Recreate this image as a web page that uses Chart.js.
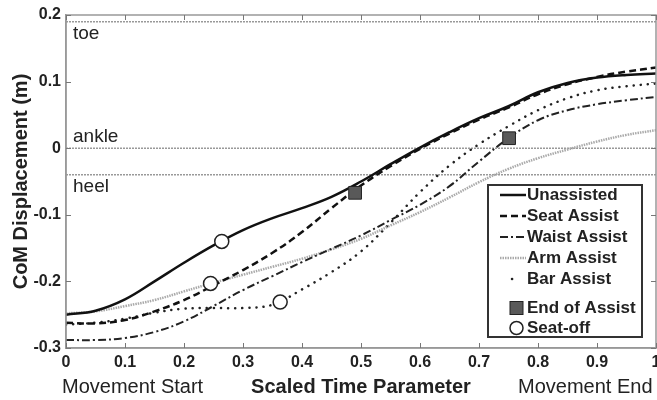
<!DOCTYPE html>
<html>
<head>
<meta charset="utf-8">
<script src="https://cdn.jsdelivr.net/npm/chart.js@4.4.0/dist/chart.umd.min.js"></script>
<style>
  html, body { margin: 0; padding: 0; overflow: hidden; background: #fff; }
</style>
</head>
<body>
<canvas id="comChart" width="680" height="400"></canvas>
<script>
// scaled time samples (0 = movement start, 1 = movement end)
const timeX = [0, 0.05, 0.1, 0.15, 0.2, 0.25, 0.3, 0.35, 0.4, 0.45, 0.5,
               0.55, 0.6, 0.65, 0.7, 0.75, 0.8, 0.85, 0.9, 0.95, 1];

// CoM displacement (m)
const unassisted  = [-0.250, -0.244, -0.227, -0.200, -0.172, -0.146, -0.123, -0.105, -0.090, -0.073, -0.050,
                     -0.024, 0.001, 0.024, 0.045, 0.063, 0.084, 0.098, 0.106, 0.110, 0.112];
const seatAssist  = [-0.262, -0.263, -0.258, -0.245, -0.228, -0.206, -0.183, -0.157, -0.126, -0.090, -0.056,
                     -0.027, -0.001, 0.022, 0.043, 0.061, 0.081, 0.096, 0.107, 0.115, 0.121];
const waistAssist = [-0.288, -0.288, -0.285, -0.276, -0.260, -0.237, -0.213, -0.192, -0.171, -0.151, -0.131,
                     -0.108, -0.085, -0.057, -0.020, 0.015, 0.042, 0.057, 0.066, 0.072, 0.077];
const armAssist   = [-0.248, -0.245, -0.237, -0.228, -0.215, -0.202, -0.190, -0.178, -0.166, -0.152, -0.136,
                     -0.116, -0.096, -0.074, -0.051, -0.031, -0.015, -0.002, 0.010, 0.020, 0.027];
const barAssist   = [-0.265, -0.262, -0.256, -0.247, -0.241, -0.240, -0.240, -0.235, -0.212, -0.186, -0.155,
                     -0.112, -0.066, -0.026, 0.006, 0.033, 0.057, 0.075, 0.087, 0.093, 0.097];

// event markers
const endAssistX = [0.49, 0.751];
const endAssistY = [-0.067, 0.015];
const seatOffX = [0.264, 0.245, 0.363];
const seatOffY = [-0.140, -0.203, -0.231];

// foot landmarks
const footLabels = ['toe', 'ankle', 'heel'];
const footLevels = [0.19, 0, -0.04];

const seriesNames = ['Unassisted', 'Seat Assist', 'Waist Assist', 'Arm Assist', 'Bar Assist'];
const markerNames = ['End of Assist', 'Seat-off'];

const FONT = '"Liberation Sans", Arial, sans-serif';

function toPoints(xs, ys) {
    return xs.map((x, i) => ({ x: x, y: ys[i] }));
}

function curve(label, values, style) {
    return Object.assign({
        label: label,
        data: toPoints(timeX, values),
        showLine: true,
        pointRadius: 0,
        borderColor: '#111',
        borderWidth: 2.5,
        tension: 0.4,
        order: 1
    }, style);
}

const datasets = [
    {
        label: markerNames[0],
        data: toPoints(endAssistX, endAssistY),
        pointStyle: 'rect',
        pointRadius: 9,
        backgroundColor: '#595959',
        borderColor: '#222',
        borderWidth: 1,
        showLine: false,
        order: 0
    },
    {
        label: markerNames[1],
        data: toPoints(seatOffX, seatOffY),
        pointStyle: 'circle',
        pointRadius: 7,
        backgroundColor: '#fff',
        borderColor: '#222',
        borderWidth: 1.5,
        showLine: false,
        order: 0
    },
    curve(seriesNames[0], unassisted, { borderWidth: 2.5 }),
    curve(seriesNames[1], seatAssist, { borderWidth: 2.5, borderDash: [7, 4] }),
    curve(seriesNames[2], waistAssist, { borderWidth: 2, borderDash: [8, 3, 2, 3], borderColor: '#222' }),
    curve(seriesNames[3], armAssist, { borderWidth: 2.5, borderDash: [1.5, 1], borderColor: '#aaa' }),
    curve(seriesNames[4], barAssist, { borderWidth: 2.5, borderDash: [0.1, 7], borderCapStyle: 'round', borderColor: '#222' })
];

// landmark reference lines
footLevels.forEach((lvl, i) => {
    datasets.push({
        label: footLabels[i],
        data: [{ x: 0, y: lvl }, { x: 1, y: lvl }],
        showLine: true,
        pointRadius: 0,
        borderColor: '#999',
        borderWidth: 1.5,
        borderDash: [2, 1],
        order: 2
    });
});

const decorPlugin = {
    id: 'decor',
    afterDatasetsDraw(chart) {
        const { ctx, chartArea: a, scales: { x, y } } = chart;
        ctx.save();

        // frame top and right
        ctx.strokeStyle = '#999';
        ctx.lineWidth = 1.5;
        ctx.strokeRect(a.left, a.top, a.right - a.left, a.bottom - a.top);

        // inward ticks
        ctx.lineWidth = 1;
        ctx.strokeStyle = '#777';
        ctx.beginPath();
        x.ticks.forEach(t => {
            const px = Math.round(x.getPixelForValue(t.value)) + 0.5;
            ctx.moveTo(px, a.bottom); ctx.lineTo(px, a.bottom - 5);
            ctx.moveTo(px, a.top); ctx.lineTo(px, a.top + 5);
        });
        y.ticks.forEach(t => {
            const py = Math.round(y.getPixelForValue(t.value)) + 0.5;
            ctx.moveTo(a.left, py); ctx.lineTo(a.left + 5, py);
            ctx.moveTo(a.right, py); ctx.lineTo(a.right - 5, py);
        });
        ctx.stroke();

        // landmark labels
        ctx.fillStyle = '#222';
        ctx.font = '19px ' + FONT;
        ctx.textAlign = 'left';
        ctx.textBaseline = 'middle';
        const offsets = [12, -11, 12];
        footLevels.forEach((lvl, i) => {
            ctx.fillText(footLabels[i], a.left + 7, y.getPixelForValue(lvl) + offsets[i]);
        });

        // legend box
        const bx = 488, by = 185, bw = 154, bh = 152;
        ctx.fillStyle = '#fff';
        ctx.fillRect(bx, by, bw, bh);
        ctx.strokeStyle = '#333';
        ctx.lineWidth = 2;
        ctx.strokeRect(bx, by, bw, bh);

        const rowY = [195, 216, 237, 258, 279, 308, 328];
        const textX = 527;
        ctx.font = 'bold 17px ' + FONT;
        ctx.textBaseline = 'middle';

        seriesNames.forEach((name, i) => {
            const ds = chart.data.datasets.find(d => d.label === name);
            const yy = rowY[i];
            ctx.save();
            ctx.strokeStyle = ds.borderColor;
            ctx.lineWidth = ds.borderWidth;
            ctx.setLineDash(ds.borderDash || []);
            ctx.lineCap = ds.borderCapStyle || 'butt';
            ctx.beginPath();
            if (name === 'Bar Assist') {
                ctx.moveTo(512, yy); ctx.lineTo(512.1, yy);
            } else {
                ctx.moveTo(500, yy); ctx.lineTo(526, yy);
            }
            ctx.stroke();
            ctx.restore();
            ctx.fillStyle = '#222';
            ctx.fillText(name, textX, yy);
        });

        // marker entries
        const sq = chart.data.datasets[0];
        ctx.fillStyle = sq.backgroundColor;
        ctx.strokeStyle = sq.borderColor;
        ctx.lineWidth = 1;
        ctx.fillRect(510, rowY[5] - 6.5, 13, 13);
        ctx.strokeRect(510, rowY[5] - 6.5, 13, 13);
        ctx.fillStyle = '#222';
        ctx.fillText(markerNames[0], textX, rowY[5]);

        ctx.beginPath();
        ctx.arc(516.5, rowY[6], 6.5, 0, Math.PI * 2);
        ctx.fillStyle = '#fff';
        ctx.fill();
        ctx.lineWidth = 1.5;
        ctx.stroke();
        ctx.fillStyle = '#222';
        ctx.fillText(markerNames[1], textX, rowY[6]);

        // movement start / end
        ctx.font = '20px ' + FONT;
        ctx.textAlign = 'left';
        ctx.fillText('Movement Start', 62, 387);
        ctx.fillText('Movement End', 518, 387);

        ctx.restore();
    }
};

new Chart(document.getElementById('comChart'), {
    type: 'scatter',
    data: { datasets: datasets },
    options: {
        responsive: false,
        animation: false,
        layout: { padding: { top: 15, right: 24, left: 0, bottom: 0 } },
        plugins: {
            legend: { display: false },
            tooltip: { enabled: false }
        },
        scales: {
            x: {
                type: 'linear',
                min: 0,
                max: 1,
                afterFit(scale) { scale.height = 52; },
                ticks: {
                    stepSize: 0.1,
                    padding: 5,
                    color: '#222',
                    font: { family: FONT, size: 16, weight: 'bold' },
                    callback: v => String(+v.toFixed(1))
                },
                grid: { display: true, drawOnChartArea: false, drawTicks: false },
                border: { color: '#999', width: 1.5 },
                title: {
                    display: true,
                    text: 'Scaled Time Parameter',
                    color: '#222',
                    font: { family: FONT, size: 20, weight: 'bold' },
                    padding: { top: 0, bottom: 1 }
                }
            },
            y: {
                type: 'linear',
                min: -0.3,
                max: 0.2,
                afterFit(scale) { scale.width = 66; },
                ticks: {
                    stepSize: 0.1,
                    padding: 5,
                    color: '#222',
                    font: { family: FONT, size: 16, weight: 'bold' },
                    callback: v => String(+v.toFixed(1))
                },
                grid: { display: true, drawOnChartArea: false, drawTicks: false },
                border: { color: '#999', width: 1.5 },
                title: {
                    display: true,
                    text: 'CoM Displacement (m)',
                    color: '#222',
                    font: { family: FONT, size: 20, weight: 'bold' },
                    padding: { top: 9, bottom: 0 }
                }
            }
        }
    },
    plugins: [decorPlugin]
});
</script>
</body>
</html>
